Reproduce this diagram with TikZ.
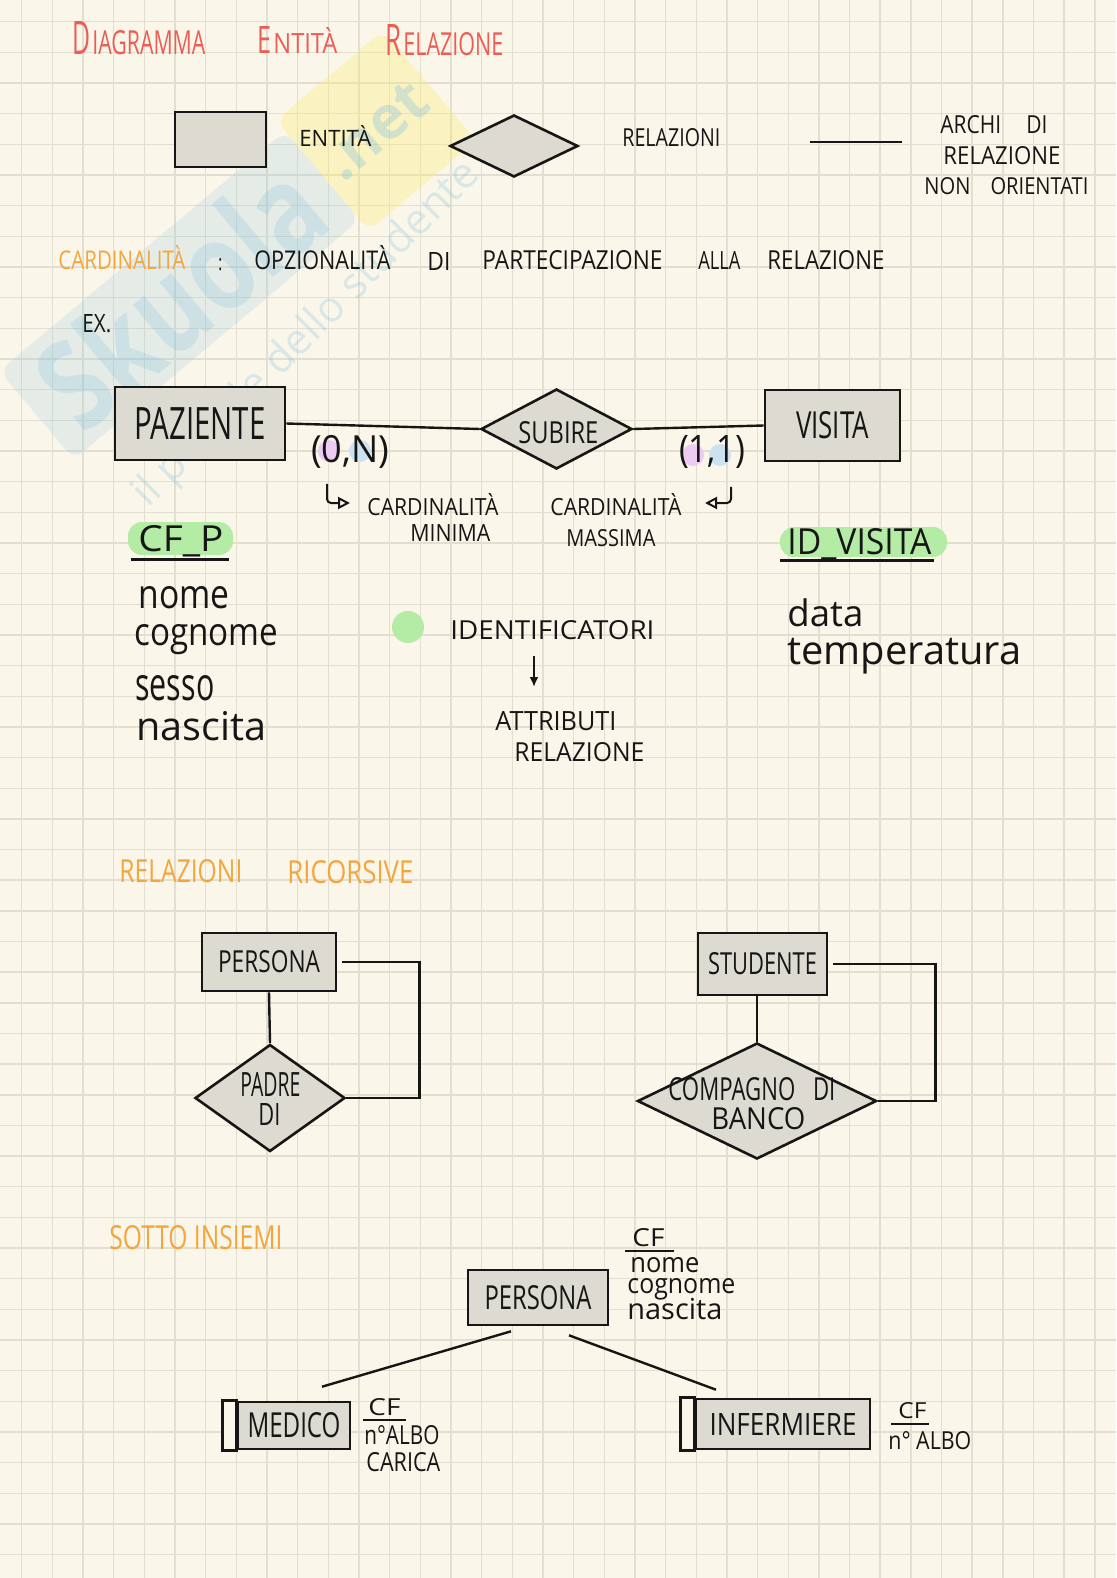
\documentclass[tikz,border=0pt]{standalone}
\usepackage{fontspec}
\setmainfont{Open Sans}
\usetikzlibrary{arrows.meta,shapes.geometric}
\newlength\px \setlength\px{0.5pt}
\newcommand\hwT[3]{\resizebox{#1\px}{#2\px}{#3}}
\newcommand\hwW[2]{\resizebox{#1\px}{!}{#2}}
\definecolor{bg}{RGB}{250,246,233}
\definecolor{gridc}{RGB}{226,223,208}
\definecolor{ink}{RGB}{22,22,22}
\definecolor{shape}{RGB}{221,218,209}
\definecolor{titlered}{RGB}{238,92,86}
\definecolor{orng}{RGB}{244,166,62}
\definecolor{hlgreen}{RGB}{180,236,166}
\definecolor{hlpink}{RGB}{236,204,240}
\definecolor{hlblue}{RGB}{204,226,240}
\definecolor{wmblue}{RGB}{120,190,225}
\definecolor{wmyel}{RGB}{250,238,110}
\tikzset{
 mw/.style={minimum width=#1*0.5pt},
 mh/.style={minimum height=#1*0.5pt},
 ent/.style={rectangle, draw=ink, line width=1.3pt, fill=shape, inner sep=0pt, text=ink},
 rel/.style={diamond, draw=ink, line width=1.3pt, fill=shape, inner sep=0pt},
 txt/.style={inner sep=0pt, anchor=base west, text=ink},
 conn/.style={draw=ink, line width=1.2pt},
 strip/.style={draw=ink, line width=1.3pt, fill=bg},
 hook/.style={draw=ink, line width=1pt, rounded corners=2pt, -{Triangle[open,length=6pt,width=6pt]}},
 gridl/.style={draw=gridc, line width=0.7pt},
}
\begin{document}
\begin{tikzpicture}[x=0.5pt,y=-0.5pt]
\path[use as bounding box] (0,0) rectangle (1116,1578);
\fill[bg] (0,0) rectangle (1116,1578);
\foreach \i in {0,...,35} {\draw[gridl] ({21.7+30.66*\i},0) -- ({21.7+30.66*\i},1578);}
\foreach \i in {0,...,50} {\draw[gridl] (0,{21.7+30.66*\i}) -- (1116,{21.7+30.66*\i});}

% watermark
\begin{scope}[shift={(255,232)}, rotate=40]
 \fill[wmblue, opacity=0.16, rounded corners=6pt] (-285,-58) rectangle (88,58);
 \node[transform shape, text=wmblue, opacity=0.22, inner sep=0pt] (wm1) at (-98,0) {\resizebox{330\px}{95\px}{\bfseries Skuola}};
 \fill[wmyel, opacity=0.32, rounded corners=6pt] (88,-72) rectangle (228,72);
 \node[transform shape, text=wmblue, opacity=0.3, inner sep=0pt] (wm2) at (158,0) {\resizebox{118\px}{!}{\bfseries .net}};
\end{scope}
\node[rotate=45, text=wmblue, opacity=0.25, inner sep=0pt] (wm3) at (307,335) {\resizebox{470\px}{!}{il portale dello studente}};

% title
\node[txt, text=titlered] (t1) at (72,55) {\hwT{18}{33}{D}\hspace{2\px}\hwT{113}{24}{IAGRAMMA}};
\node[txt, text=titlered] (t2) at (257,54) {\hwT{14}{27}{E}\hspace{2\px}\hwT{64}{26}{NTITÀ}};
\node[txt, text=titlered] (t3) at (385,56) {\hwT{16}{31}{R}\hspace{2\px}\hwT{100}{23}{ELAZIONE}};

% legend
\node[ent, mw=91, mh=55] (lent) at (220.5,139.5) {};
\node[txt] (lentt) at (299,147) {\hwT{72}{21}{ENTITÀ}};
\node[rel, mw=128, mh=62] (lrel) at (514,146) {};
\node[txt] (lrelt) at (622,147) {\hwT{98}{18}{RELAZIONI}};
\coordinate (la1) at (810,142);
\coordinate (la2) at (902,142);
\draw[conn] (la1) -- (la2);
\node[txt] (larc1) at (940,134) {\hwT{107}{18}{ARCHI\hspace{1.2em}DI}};
\node[txt] (larc2) at (943,165) {\hwT{117}{18}{RELAZIONE}};
\node[txt] (larc3) at (924,195) {\hwT{164}{17}{NON\hspace{1em}ORIENTATI}};

% cardinalita line
\node[txt, text=orng] (c1) at (58,270) {\hwT{127}{24}{CARDINALITÀ}};
\node[txt] (c2) at (218,270) {\hwT{4}{12}{:}};
\node[txt] (c3) at (254,270) {\hwT{136}{24}{OPZIONALITÀ}};
\node[txt] (c4) at (427,270) {\hwT{23}{18}{DI}};
\node[txt] (c5) at (482,270) {\hwT{180}{19}{PARTECIPAZIONE}};
\node[txt] (c6) at (698,270) {\hwT{42}{18}{ALLA}};
\node[txt] (c7) at (767,270) {\hwT{117}{19}{RELAZIONE}};
\node[txt] (ex) at (82,332) {\hwT{29}{18}{EX.}};

% ER example
\node[ent, mw=170, mh=73] (paz) at (200,423.5) {\hwT{131}{32}{PAZIENTE}};
\node[ent, mw=135, mh=71] (vis) at (832.5,425.5) {\hwT{73}{27}{VISITA}};
\node[rel, mw=151, mh=80] (sub) at (556.5,429) {};
\node[txt] (subt) at (518,443) {\hwT{80}{22}{SUBIRE}};
\draw[conn] (paz.east) -- (sub.west);
\draw[conn] (sub.east) -- (vis.west);

\fill[hlpink] (329,451) circle (11);
\fill[hlblue] (360,451) circle (11);
\fill[hlpink] (693,455) circle (11);
\fill[hlblue] (720,455) circle (11);
\node[inner sep=0pt, text=ink] (on) at (350,452) {\resizebox*{78\px}{33\px}{(0,N)}};
\node[inner sep=0pt, text=ink] (oo) at (712,452) {\resizebox*{66\px}{33\px}{(1,1)}};

\coordinate (cminc) at (350,503);
\coordinate (cmaxc) at (705,503);
\draw[hook] ([xshift=-11.5pt,yshift=-7.5pt]on.south) |- (cminc);
\draw[hook] ([xshift=9.5pt,yshift=-9pt]oo.south) |- (cmaxc);
\node[txt] (cmin1) at (367,515) {\hwT{131}{22}{CARDINALITÀ}};
\node[txt] (cmin2) at (410,541) {\hwT{80}{17}{MINIMA}};
\node[txt] (cmax1) at (550,515) {\hwT{131}{22}{CARDINALITÀ}};
\node[txt] (cmax2) at (566,546) {\hwT{89}{17}{MASSIMA}};

\fill[hlgreen, rounded corners=7pt] (128,522) rectangle (233,555);
\node[txt] (cfp) at (138,551) {\hwT{85}{26}{CF\_P}};
\coordinate (u1a) at (131,559); \coordinate (u1b) at (229,559);
\draw[ink, line width=1.5pt] (u1a) -- (u1b);
\fill[hlgreen, rounded corners=7pt] (780,527) rectangle (947,557);
\node[txt] (idv) at (787,554) {\hwT{144}{26}{ID\_VISITA}};
\coordinate (u2a) at (780,560); \coordinate (u2b) at (934,560);
\draw[ink, line width=1.5pt] (u2a) -- (u2b);

\node[txt] (a1) at (138,608) {\hwT{91}{22}{nome}};
\node[txt] (a2) at (134,645) {\hwT{144}{21}{cognome}};
\node[txt] (a3) at (135,700) {\hwT{79}{25}{sesso}};
\node[txt] (a4) at (136,740) {\hwW{130}{nascita}};
\node[txt] (b1) at (787,626) {\hwW{76}{data}};
\node[txt] (b2) at (787,664) {\hwW{234}{temperatura}};

\fill[hlgreen] (408,627) circle (16);
\node[txt] (ident) at (450,639) {\hwT{204}{19}{IDENTIFICATORI}};
\coordinate (ar1) at (534,656);
\coordinate (ar2) at (534,687);
\draw[ink, line width=1.1pt, -{Latex[length=5pt,width=4.5pt]}] (ar1) -- (ar2);
\node[txt] (attr1) at (495,730) {\hwT{121}{19}{ATTRIBUTI}};
\node[txt] (attr2) at (514,761) {\hwT{130}{19}{RELAZIONE}};

% relazioni ricorsive
\node[txt, text=orng] (r1) at (119,882) {\hwT{123}{23}{RELAZIONI}};
\node[txt, text=orng] (r2) at (287,883) {\hwT{126}{23}{RICORSIVE}};

\node[ent, mw=134, mh=58] (pers) at (269,962) {\hwT{102}{22}{PERSONA}};
\node[rel, mw=150, mh=107] (padre) at (270,1098) {};
\node[txt] (padret1) at (240,1096) {\hwT{60}{24}{PADRE}};
\node[txt] (padret2) at (258,1125) {\hwT{22}{22}{DI}};
\draw[conn] (pers.south) -- (padre.north);
\draw[conn] ([xshift=2.5pt]pers.east) -- ++(77,0) |- (padre.east);

\node[ent, mw=129, mh=62] (stud) at (762.5,964) {\hwT{109}{22}{STUDENTE}};
\node[rel, mw=239, mh=116] (comp) at (757,1101) {};
\node[txt] (compt1) at (668,1100) {\hwT{167}{23}{COMPAGNO\hspace{.8em}DI}};
\node[txt] (compt2) at (711,1129) {\hwT{94}{22}{BANCO}};
\draw[conn] (comp.north |- stud.south) -- (comp.north);
\draw[conn] ([xshift=2.5pt]stud.east) -- ++(102,0) |- (comp.east);

% sotto insiemi
\node[txt, text=orng] (s1) at (109,1249) {\hwT{173}{24}{SOTTO INSIEMI}};
\node[ent, mw=140, mh=55] (pers2) at (538,1297.5) {\hwT{107}{24}{PERSONA}};
\node[txt] (p2a) at (632,1246) {\hwT{32}{18}{CF}};
\coordinate (u3a) at (625,1251); \coordinate (u3b) at (674,1251);
\draw[ink, line width=1.2pt] (u3a) -- (u3b);
\node[txt] (p2b) at (630,1272) {\hwT{69}{15}{nome}};
\node[txt] (p2c) at (627,1293) {\hwT{108}{15}{cognome}};
\node[txt] (p2d) at (627,1319) {\hwW{95}{nascita}};

\node[ent, mw=112, mh=47] (med) at (294,1425.5) {\hwT{93}{25}{MEDICO}};
\draw[strip] ([xshift=-7pt]med.north west) rectangle (med.south west);
\node[ent, mw=174, mh=50] (inf) at (783,1424) {\hwT{147}{22}{INFERMIERE}};
\draw[strip] ([xshift=-7pt]inf.north west) rectangle (inf.south west);
\draw[conn] ([xshift=-13.5pt,yshift=-2.5pt]pers2.south) -- ([xshift=14pt,yshift=7pt]med.north);
\draw[conn] ([xshift=15.5pt,yshift=-4.5pt]pers2.south) -- ([xshift=-33.5pt,yshift=4pt]inf.north);

\node[txt] (m1) at (368,1415) {\hwT{32}{17}{CF}};
\coordinate (u4a) at (363,1420); \coordinate (u4b) at (406,1420);
\draw[ink, line width=1.2pt] (u4a) -- (u4b);
\node[txt] (m2) at (364,1444) {\hwT{75}{19}{n°ALBO}};
\node[txt] (m3) at (366,1471) {\hwT{74}{19}{CARICA}};
\node[txt] (i1) at (898,1418) {\hwT{28}{16}{CF}};
\coordinate (u5a) at (891,1424); \coordinate (u5b) at (929,1424);
\draw[ink, line width=1.2pt] (u5a) -- (u5b);
\node[txt] (i2) at (888,1449) {\hwT{83}{18}{n° ALBO}};
\end{tikzpicture}
\end{document}
